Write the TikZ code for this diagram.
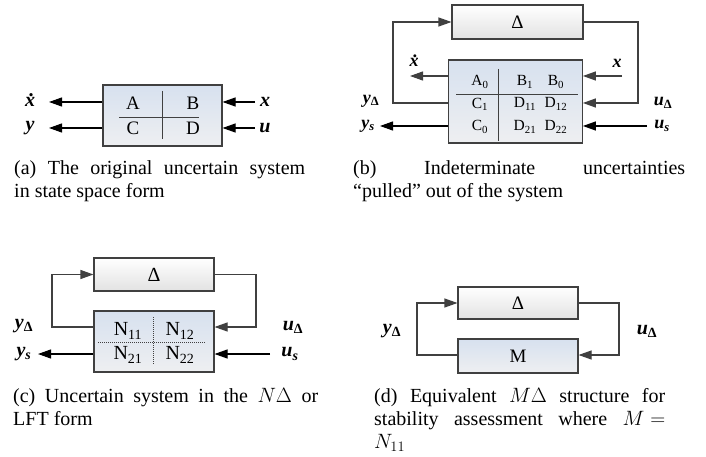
\documentclass[tikz,border=0pt]{standalone}
\usepackage{fontspec}
\setmainfont{Liberation Serif}
\usetikzlibrary{arrows.meta}
\definecolor{edge}{RGB}{64,64,64}
\definecolor{mtop}{RGB}{215,225,239}
\definecolor{mbot}{RGB}{238,239,241}
\definecolor{dbot}{RGB}{226,226,226}
\newcommand\xdot{\makebox[0pt][l]{\hspace{0.22em}\raisebox{0.5em}{.}}x}
\newcommand\usub[1]{\textsubscript{\upshape #1}}
\newcommand\isub[1]{\textsubscript{#1}}
\begin{document}
\begin{tikzpicture}[x=1pt,y=-1pt,
  mbox/.style={draw=edge,line width=1.1pt,top color=mtop,bottom color=mbot,inner sep=0pt},
  dbox/.style={draw=edge,line width=1.1pt,top color=white,bottom color=dbot,inner sep=0pt},
  arr/.style={line width=1.1pt,-{Triangle[length=13pt,width=9pt]}},
  fba/.style={draw=edge,line width=1.1pt,-{Triangle[length=13pt,width=9pt]}},
  div/.style={draw=edge,line width=0.8pt},
  dots/.style={draw=edge,line width=0.8pt,dash pattern=on 1pt off 1pt},
  lab/.style={inner sep=0pt,font=\fontsize{20}{22}\selectfont\bfseries\itshape},
  labb/.style={inner sep=0pt,font=\fontsize{18}{20}\selectfont\bfseries\itshape},
  ent/.style={inner sep=0pt,font=\fontsize{19}{20}\selectfont},
  entb/.style={inner sep=0pt,font=\fontsize{15.5}{18}\selectfont},
  entc/.style={inner sep=0pt,font=\fontsize{20}{22}\selectfont},
  captext/.style={anchor=base west,inner sep=0pt,align=justify,font=\fontsize{20}{23}\selectfont}]
\path[use as bounding box] (0,0) rectangle (706,457);

% ---------- (a) ----------
\node[mbox,minimum width=119pt,minimum height=61pt] (a) at (162.5,115.5) {};
\draw[div] (162,91) -- (162,139);
\draw[div] (119,117) -- (199,117);
\node[ent] (aA) at (133,103) {A};
\node[ent] (aB) at (193,103) {B};
\node[ent] (aC) at (133,128) {C};
\node[ent] (aD) at (193,128) {D};
\coordinate (al1) at (49,102);
\coordinate (al2) at (49,128);
\coordinate (ar1) at (255,102);
\coordinate (ar2) at (255,128);
\draw[arr] (a.west |- al1) -- (al1);
\draw[arr] (a.west |- al2) -- (al2);
\draw[arr] (ar1) -- (a.east |- ar1);
\draw[arr] (ar2) -- (a.east |- ar2);
\node[lab] (lxd) at (30,100) {\xdot};
\node[lab] (ly) at (30,128) {y};
\node[lab] (lx) at (265,102) {x};
\node[lab] (lu) at (265,128) {u};
\node[captext,text width=291pt] (capa) at (14,175) {(a) The original uncertain system\linebreak in state space form};

% ---------- (b) ----------
\node[dbox,minimum width=131pt,minimum height=34pt,font=\fontsize{19}{20}\selectfont] (bd) at (517.5,22) {Δ};
\node[mbox,minimum width=134pt,minimum height=83pt] (bm) at (515.3,101.5) {};
\draw[div] (498,69) -- (498,141);
\draw[div] (456,94) -- (578,94);
\node[entb] at (480,82) {A\textsubscript{0}};
\node[entb] at (525,82) {B\textsubscript{1}};
\node[entb] at (556,82) {B\textsubscript{0}};
\node[entb] at (480,104) {C\textsubscript{1}};
\node[entb] at (525,104) {D\textsubscript{11}};
\node[entb] at (556,104) {D\textsubscript{12}};
\node[entb] at (480,127) {C\textsubscript{0}};
\node[entb] at (525,127) {D\textsubscript{21}};
\node[entb] at (556,127) {D\textsubscript{22}};
\coordinate (bfl) at (393,103);
\coordinate (bfr) at (638,103);
\draw[fba] (bm.west |- bfl) -- (bfl) |- (bd.west);
\draw[fba] (bd.east) -| (bfr) -- (bm.east |- bfr);
\coordinate (bxd) at (410,76);
\coordinate (bx) at (622,76);
\coordinate (bys) at (380,126);
\coordinate (bus) at (647,126);
\draw[fba] (bm.west |- bxd) -- (bxd);
\draw[fba] (bx) -- (bm.east |- bx);
\draw[arr] (bm.west |- bys) -- (bys);
\draw[arr] (bus) -- (bm.east |- bus);
\node[labb] at (414,61) {\xdot};
\node[labb] at (617,63) {x};
\node[labb] at (371,101) {y\usub{Δ}};
\node[labb] at (368,126) {y\isub{s}};
\node[labb] at (663,103) {u\usub{Δ}};
\node[labb] at (662,126) {u\isub{s}};
\node[captext,text width=332pt] (capb) at (353,175) {(b) Indeterminate uncertainties\linebreak ``pulled'' out of the system};

% ---------- (c) ----------
\node[dbox,minimum width=120pt,minimum height=33pt,font=\fontsize{20}{22}\selectfont] (cd) at (154,274.5) {Δ};
\node[mbox,minimum width=120pt,minimum height=61pt] (cm) at (154,341.5) {};
\draw[dots] (153,317) -- (153,365);
\draw[dots] (98,342) -- (205,342);
\node[entc] at (128,331) {N\textsubscript{11}};
\node[entc] at (180,331) {N\textsubscript{12}};
\node[entc] at (128,355) {N\textsubscript{21}};
\node[entc] at (180,355) {N\textsubscript{22}};
\coordinate (cfl) at (52,327);
\coordinate (cfr) at (256,327);
\draw[fba] (cm.west |- cfl) -- (cfl) |- (cd.west);
\draw[fba] (cd.east) -| (cfr) -- (cm.east |- cfr);
\coordinate (cys) at (38,354);
\coordinate (cus) at (270,354);
\draw[arr] (cm.west |- cys) -- (cys);
\draw[arr] (cus) -- (cm.east |- cus);
\node[lab] at (24,326) {y\usub{Δ}};
\node[lab] at (24,354) {y\isub{s}};
\node[lab] at (293,327) {u\usub{Δ}};
\node[lab] at (290,354) {u\isub{s}};
\node[captext,text width=305pt] (capc) at (13,402) {(c) Uncertain system in the $N\Delta$ or\linebreak LFT form};

% ---------- (d) ----------
\node[dbox,minimum width=120pt,minimum height=32pt,font=\fontsize{19}{20}\selectfont] (dd) at (518,303) {Δ};
\node[mbox,minimum width=120pt,minimum height=34pt,font=\fontsize{19}{20}\selectfont] (dm) at (518,356) {M};
\coordinate (dfl) at (417,355);
\coordinate (dfr) at (619,355);
\draw[fba] (dm.west |- dfl) -- (dfl) |- (dd.west);
\draw[fba] (dd.east) -| (dfr) -- (dm.east |- dfr);
\node[lab] at (392,331) {y\usub{Δ}};
\node[lab] at (647,331) {u\usub{Δ}};
\node[captext,text width=291pt] (capd) at (374,402) {(d) Equivalent $M\Delta$ structure for\linebreak stability assessment where $M\mskip5mu{=}$\linebreak $N_{11}$};
\end{tikzpicture}
\end{document}
